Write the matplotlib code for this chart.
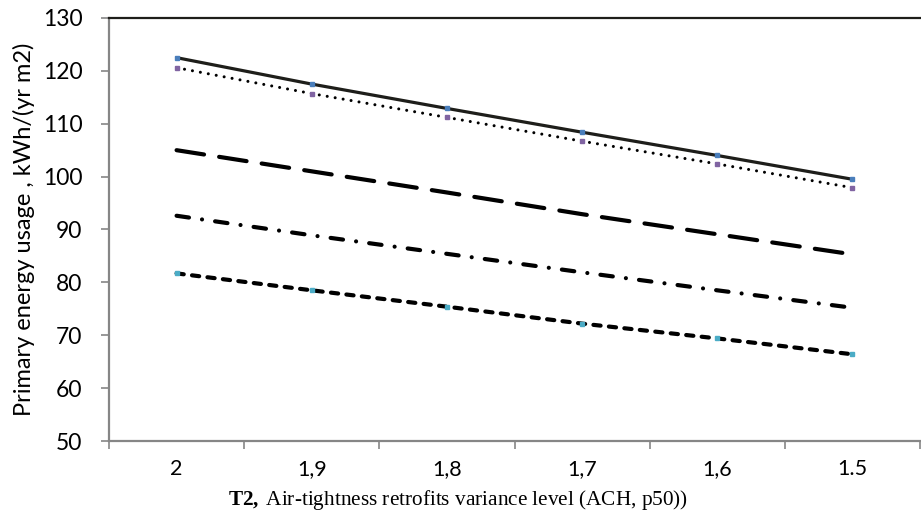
import matplotlib
matplotlib.use("Agg")
import matplotlib.pyplot as plt
import numpy as np

categories = ["2", "1,9", "1,8", "1,7", "1,6", "1.5"]
solid_vals = [122.5, 117.5, 112.9, 108.4, 104.0, 99.5]
dotted_vals = [120.6, 115.7, 111.2, 106.7, 102.4, 97.9]
longdash_vals = [105.0, 101.0, 97.0, 92.9, 89.1, 85.3]
dashdot_vals = [92.6, 88.9, 85.4, 81.9, 78.5, 75.2]
shortdash_vals = [81.7, 78.5, 75.4, 72.2, 69.4, 66.4]

y_ticks = [50, 60, 70, 80, 90, 100, 110, 120, 130]

plt.rcParams['lines.scale_dashes'] = False
plt.rcParams['mathtext.fontset'] = 'custom'
plt.rcParams['mathtext.rm'] = 'Liberation Serif'
plt.rcParams['mathtext.bf'] = 'Liberation Serif:bold'

fig = plt.figure(figsize=(9.21, 5.24), dpi=100)
ax = fig.add_axes([109/921, 1-441/524, (920-109)/921, (441-18)/524])

x = np.arange(1, len(categories) + 1)
gray = '#868686'

ax.plot(x, solid_vals, color='#1e1e1a', lw=2.3, solid_capstyle='round',
        marker='s', ms=2.6, mfc='#4a7ebb', mec='#4a7ebb', zorder=3)
ax.plot(x, dotted_vals, color='black', lw=2.2, dashes=(0.01, 5.8), dash_capstyle='round',
        marker='s', ms=2.6, mfc='#8064a2', mec='#8064a2', zorder=3)
ax.plot(x, longdash_vals, color='black', lw=3.0, dashes=(20, 11), dash_capstyle='round', zorder=3)
ax.plot(x, dashdot_vals, color='black', lw=3.0, dashes=(9, 9.5, 0.01, 9.5), dash_capstyle='round', zorder=3)
ax.plot(x, shortdash_vals, color='black', lw=3.0, dashes=(5.2, 6), dash_capstyle='round',
        marker='s', ms=2.6, mfc='#4bacc6', mec='#4bacc6', zorder=3)

ax.set_xlim(0.5, len(categories) + 0.5)
ax.set_ylim(50, 130)
ax.set_yticks(y_ticks)
ax.set_yticklabels([str(v) for v in y_ticks], family='Lato', fontsize=16.5)
ax.set_xticks(x)
ax.set_xticklabels(categories, family='Lato', fontsize=15.5)
ax.set_xticks(np.arange(0.5, len(categories) + 1, 1), minor=True)
ax.tick_params(axis='x', which='major', length=0, pad=13)
ax.tick_params(axis='x', which='minor', length=6, width=1.2, color=gray, direction='out')
ax.tick_params(axis='y', which='major', length=6, width=1.2, color=gray, direction='out', pad=13)

for s in ['left', 'bottom']:
    ax.spines[s].set_color(gray)
    ax.spines[s].set_linewidth(1.6)
ax.spines['top'].set_color('#1e1e1a')
ax.spines['top'].set_linewidth(1.6)
ax.spines['right'].set_visible(False)

ax.set_ylabel('Primary energy usage , kWh/(yr m2)', family='Lato', fontsize=17, labelpad=6)
ax.set_xlabel(r'$\mathbf{T2,}\,$Air-tightness retrofits variance level (ACH, p50))',
              family='Liberation Serif', fontsize=15.3, labelpad=3)
ax.xaxis.set_label_coords(0.43, -0.11)

fig.savefig('out.png', dpi=100)
